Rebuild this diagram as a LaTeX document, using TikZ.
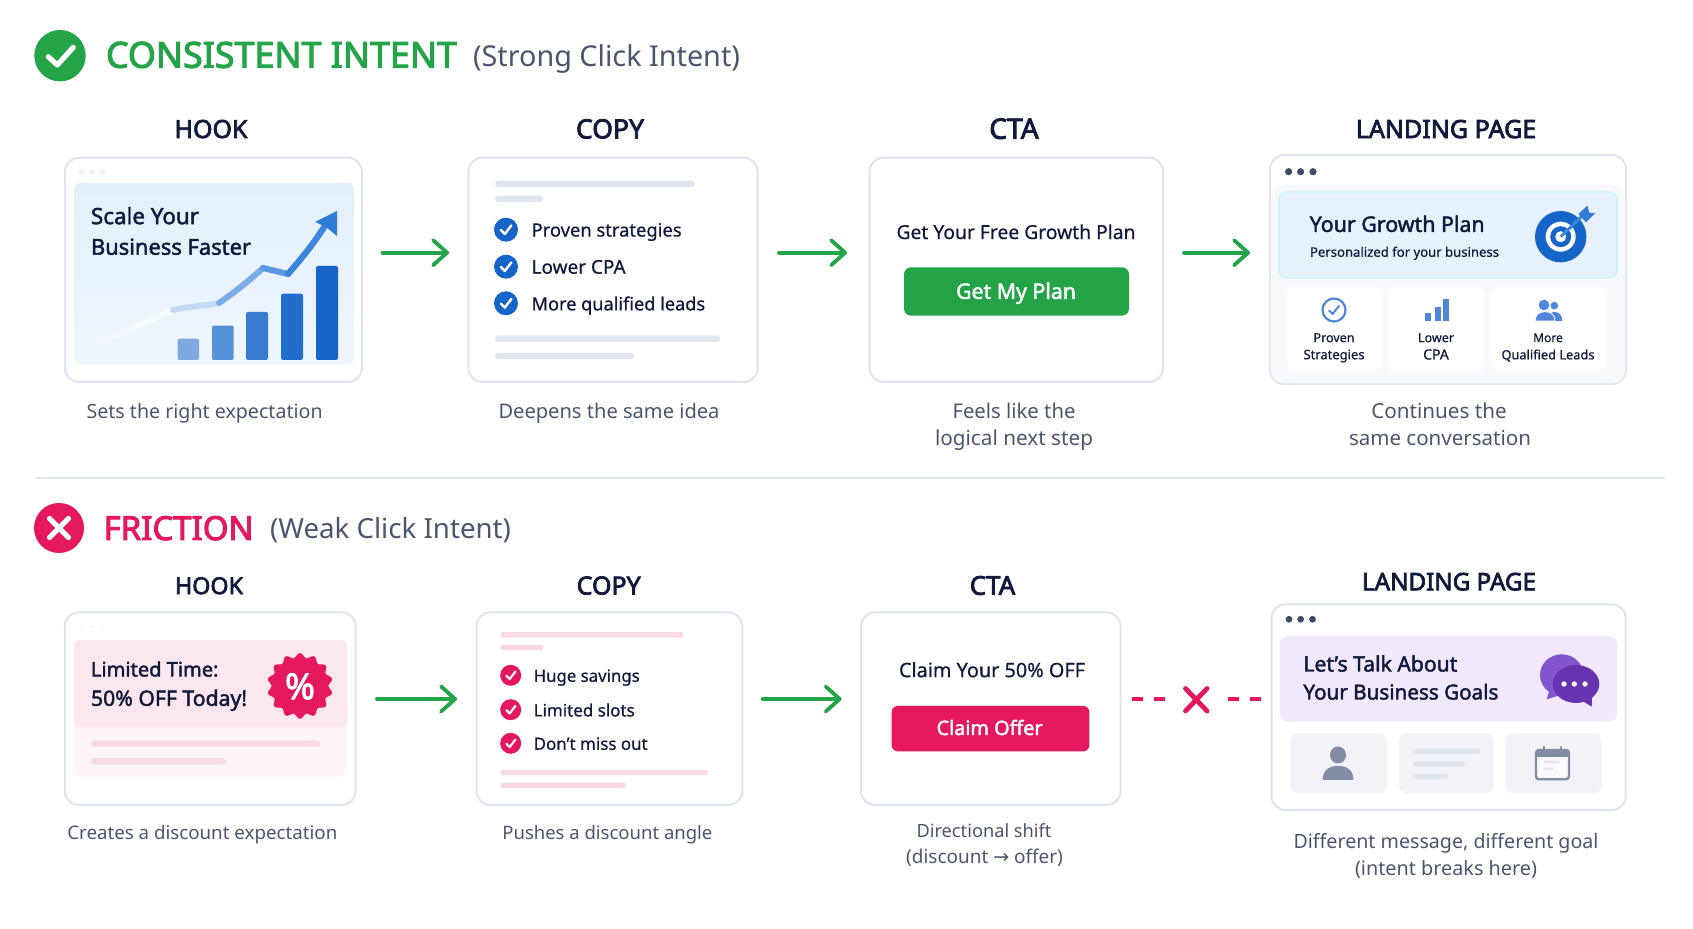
\documentclass[tikz,border=0pt]{standalone}
\usepackage{graphicx}
\usepackage{fontspec}
\usetikzlibrary{arrows.meta,fit}
\setmainfont{Noto Sans}
\newfontfamily\lightf{Noto Sans}[FakeBold=0.6]
\newfontfamily\medf{Noto Sans}[FakeBold=2]
\newfontfamily\semif{Noto Sans}[FakeBold=3]
\newfontfamily\djv{DejaVu Sans}
\definecolor{ink}{HTML}{111A3C}
\definecolor{capt}{HTML}{4B566E}
\definecolor{okg}{HTML}{22A447}
\definecolor{bad}{HTML}{E5185F}
\definecolor{blu}{HTML}{1565C8}
\definecolor{edge}{HTML}{DDE3EF}
\definecolor{graybar}{HTML}{E1E5EE}
\definecolor{pinkbar}{HTML}{F9D9E4}
\definecolor{card}{HTML}{F1F3F8}
\definecolor{iconb}{HTML}{4F86DA}
\definecolor{iconk}{HTML}{828CA2}
\definecolor{paneltop}{HTML}{E3EFFB}
\definecolor{panelbot}{HTML}{EFF6FD}
\tikzset{
  lab/.style={inner sep=0pt,outer sep=0pt},
  head/.style={font=\semif,text=ink},
  capn/.style={font=\normalfont,text=capt},
  body/.style={font=\medf,text=ink},
  small/.style={font=\lightf,text=ink},
  panelbox/.style={draw=edge,line width=1pt,fill=white,rounded corners=7pt,inner sep=0pt,outer sep=0pt},
  flow/.style={draw=okg,line width=1.9pt,line cap=round,-{Straight Barb[length=7pt,width=12.5pt,round]}},
  brk/.style={draw=bad,line width=1.8pt,dash pattern=on 5.4pt off 5.6pt},
  micro/.style={fill=white,rounded corners=4pt},
  gcard/.style={fill=card,rounded corners=4pt}
}
\newcommand\lbl[7]{\node[lab,anchor=#2,#6] (#1) at (#3,{#4+2.3}) {\resizebox{\dimexpr#5pt/2\relax}{!}{\vphantom{Ajg}#7}};}
\newcommand\pill[5]{\fill[#5,rounded corners=#4*0.24pt] (#1,{#3-#4/2}) rectangle (#2,{#3+#4/2});}
\newcommand\chk[4]{\fill[#4] (#1,#2) circle (#3);
  \draw[white,line width=#3*0.1pt,line cap=round,line join=round] ({#1-.42*#3},{#2+.03*#3}) -- ({#1-.1*#3},{#2+.36*#3}) -- ({#1+.45*#3},{#2-.36*#3});}
\newcommand\vbar[4]{\fill[#4,rounded corners=1pt] (#1,360) rectangle (#2,#3);}
\begin{document}
\begin{tikzpicture}[x=0.5pt,y=-0.5pt]
\useasboundingbox (0,0) rectangle (1693,929);
\fill[white] (0,0) rectangle (1693,929);

% ---------- header 1
\fill[okg] (60,55.7) circle (25.7);
\draw[white,line width=2.6pt,line cap=round,line join=round] (48.3,56.7) -- (57.3,65) -- (73.3,47.3);
\lbl{h1}{west}{106}{56.5}{351}{font=\semif,text=okg}{CONSISTENT INTENT}
\lbl{h1b}{west}{473}{57}{267}{capn}{(Strong Click Intent)}

% ---------- row 1 titles
\lbl{t1}{center}{211}{129.5}{73}{head}{HOOK}
\lbl{t2}{center}{610}{129.5}{68}{head}{COPY}
\lbl{t3}{center}{1014}{129.5}{49.5}{head}{CTA}
\lbl{t4}{center}{1446}{129.5}{180.5}{head}{LANDING PAGE}

% ---------- row 1 boxes
\node[panelbox,fit={(65,157.7)(362,382)}] (hook1) {};
\node[panelbox,fit={(468.4,157.7)(757.6,382)}] (copy1) {};
\node[panelbox,fit={(869.5,157.7)(1163,382)}] (cta1) {};
\node[panelbox,fit={(1270,155)(1626,384)}] (lp1) {};

% hook 1 content
\foreach \x in {82,92,102} \fill[card] (\x,171.7) circle (3);
\shade[rounded corners=3pt,top color=paneltop,bottom color=panelbot] (74.5,183) rectangle (354,365);
\lbl{s1}{west}{91}{216}{108}{body}{Scale Your}
\lbl{s2}{west}{91}{247}{160}{body}{Business Faster}
\draw[line width=3pt,line cap=round,color={rgb,255:red,243;green,248;blue,254}] (100,342) .. controls (115,336) and (125,332) .. (135,327);
\draw[line width=3pt,line cap=round,color={rgb,255:red,248;green,251;blue,255}] (135,327) .. controls (150,322) and (160,315) .. (173,310);
\draw[line width=3pt,line cap=round,color={rgb,255:red,195;green,218;blue,245}] (173,310) .. controls (190,306) and (205,306) .. (219,303);
\draw[line width=3pt,line cap=round,color={rgb,255:red,125;green,172;blue,234}] (219,303) .. controls (235,292) and (250,280) .. (263,268);
\draw[line width=3pt,line join=round,line cap=round,color={rgb,255:red,90;green,152;blue,228}] (263,268) -- (288,274);
\draw[line width=3.1pt,line cap=round,color={rgb,255:red,60;green,133;blue,220}] (288,274) .. controls (302,258) and (315,242) .. (326,224);
\fill[color={rgb,255:red,47;green,123;blue,214}] (337,211) -- (315,222) -- (326,227) -- (337,236) -- cycle;
\vbar{177.5}{199}{338.7}{blu!55!white}
\vbar{212}{233.7}{325.7}{blu!72!white}
\vbar{246}{268}{312}{blu!85!white}
\vbar{281}{303}{293.7}{blu!95!white}
\vbar{316}{338}{266}{blu}

% copy 1 content
\pill{495}{695}{184}{6.5}{graybar}
\pill{495}{543}{199}{6.5}{graybar}
\chk{506}{229.7}{12}{blu}
\chk{506}{266.7}{12}{blu}
\chk{506}{303.3}{12}{blu}
\lbl{c1}{west}{531.6}{229.7}{150}{small}{Proven strategies}
\lbl{c2}{west}{531.6}{266.7}{94}{small}{Lower CPA}
\lbl{c3}{west}{531.6}{303.3}{173.5}{small}{More qualified leads}
\pill{495}{720}{338.7}{6.5}{graybar}
\pill{495}{634}{356}{6.5}{graybar}

% cta 1 content
\lbl{g1}{center}{1016}{231.7}{239}{small}{Get Your Free Growth Plan}
\node[fill=okg,rounded corners=3.5pt,inner sep=0pt,fit={(904,267.3)(1129,315.7)}] (btn1) {};
\lbl{g2}{center}{1016}{291}{120}{font=\medf,text=white}{Get My Plan}

% landing 1 content
\fill[color={rgb,255:red,247;green,249;blue,253},rounded corners=6.5pt] (1270.6,185) rectangle (1625.4,383.4);
\foreach \x in {1288.6,1300.6,1313} \fill[color={rgb,255:red,63;green,74;blue,102}] (\x,171.7) circle (3.6);
\fill[draw=blu!25!cyan!25!white,line width=.7pt,fill={rgb,255:red,230;green,241;blue,252},rounded corners=4pt] (1279,192) rectangle (1617,278);
\lbl{l1}{west}{1309.7}{224}{175}{body}{Your Growth Plan}
\lbl{l2}{west}{1310}{251}{189}{small}{Personalized for your business}
\fill[blu] (1560.7,236.7) circle (25.7);
\fill[white] (1560.7,236.7) circle (15);
\fill[blu] (1560.7,236.7) circle (10.5);
\fill[white] (1560.7,236.7) circle (5.5);
\draw[line width=1.5pt,color={rgb,255:red,61;green,133;blue,220}] (1560.7,236.7) -- (1581,217);
\fill[color={rgb,255:red,50;green,125;blue,215}] (1578.3,214) -- (1587.3,205.7) -- (1589.3,212.7) -- (1595,213.3) -- (1586,222.3) -- cycle;
\fill[micro] (1287,286.7) rectangle (1382,371.7);
\fill[micro] (1388,286.7) rectangle (1484.5,371.7);
\fill[micro] (1491,286.7) rectangle (1606,371.7);
\draw[iconb,line width=1.1pt] (1334,310) circle (11.5);
\draw[iconb,line width=1pt,line cap=round,line join=round] (1329,310.5) -- (1332.6,314) -- (1339,306);
\fill[iconb] (1424.7,313) rectangle (1431,321);
\fill[iconb] (1435,306.7) rectangle (1441.3,321);
\fill[iconb] (1442.5,299) rectangle (1448.8,321);
\fill[iconb] (1544,305) circle (5.3);
\fill[iconb] (1554.3,305.7) circle (3.8);
\fill[iconb] (1555,321) -- (1562.3,321) .. controls (1562.3,315) and (1559,312) .. (1554.5,312) .. controls (1552,312) and (1550,313) .. (1549,314) -- cycle;
\fill[iconb,draw=white,line width=.4pt] (1535,321) .. controls (1535,315) and (1539,311.7) .. (1545,311.7) .. controls (1551,311.7) and (1555,315) .. (1555,321) -- cycle;
\lbl{m1}{center}{1334}{336.7}{41}{small}{Proven}
\lbl{m2}{center}{1334}{353.7}{61}{small}{Strategies}
\lbl{m3}{center}{1436}{336.7}{36}{small}{Lower}
\lbl{m4}{center}{1436}{353.7}{25.6}{small}{CPA}
\lbl{m5}{center}{1548}{336.7}{29.6}{small}{More}
\lbl{m6}{center}{1548}{353.7}{93}{small}{Qualified Leads}

% row 1 captions
\lbl{k1}{center}{204.6}{411}{236}{capn}{Sets the right expectation}
\lbl{k2}{center}{609}{411}{221}{capn}{Deepens the same idea}
\lbl{k3}{center}{1014}{410.7}{123}{capn}{Feels like the}
\lbl{k4}{center}{1014}{438}{158}{capn}{logical next step}
\lbl{k5}{center}{1439}{410.7}{135.5}{capn}{Continues the}
\lbl{k6}{center}{1440}{438}{182}{capn}{same conversation}

% row 1 connectors
\coordinate (a1s) at (382.6,252.7); \coordinate (a1e) at (449,252.7);
\coordinate (a2s) at (779,252.7); \coordinate (a2e) at (847,252.7);
\coordinate (a3s) at (1184,252.7); \coordinate (a3e) at (1250,252.7);
\draw[flow] (a1s) -- (a1e);
\draw[flow] (a2s) -- (a2e);
\draw[flow] (a3s) -- (a3e);

% divider
\coordinate (dl) at (34.5,478); \coordinate (dr) at (1665,478);
\draw[color={rgb,255:red,227;green,230;blue,238},line width=.8pt] (dl) -- (dr);

% ---------- header 2
\fill[bad] (59,528) circle (25);
\draw[white,line width=2.6pt,line cap=round] (49.5,518.5) -- (68.5,537.5) (68.5,518.5) -- (49.5,537.5);
\lbl{h2}{west}{103.6}{529.5}{150}{font=\semif,text=bad}{FRICTION}
\lbl{h2b}{west}{270}{529}{241}{capn}{(Weak Click Intent)}

% row 2 titles
\lbl{u1}{center}{209}{586}{68}{head}{HOOK}
\lbl{u2}{center}{608.7}{586}{64}{head}{COPY}
\lbl{u3}{center}{992.5}{586}{45.5}{head}{CTA}
\lbl{u4}{center}{1449}{582}{174}{head}{LANDING PAGE}

% row 2 boxes
\node[panelbox,fit={(64.8,612.3)(355.6,805)}] (hook2) {};
\node[panelbox,fit={(476.5,612.3)(742.3,805)}] (copy2) {};
\node[panelbox,fit={(861,612.3)(1120.6,805)}] (cta2) {};
\node[panelbox,fit={(1271.5,604.3)(1625.7,810)}] (lp2) {};

% hook 2 content
\foreach \x in {82,92,102} \fill[card!50!white] (\x,627) circle (2.5);
\fill[color={rgb,255:red,254;green,245;blue,248},rounded corners=4pt] (74,700) rectangle (347,777);
\fill[color={rgb,255:red,252;green,231;blue,238},rounded corners=3pt] (74,640) rectangle (347,727.7);
\lbl{p1}{west}{91}{669}{127.5}{body}{Limited Time:}
\lbl{p2}{west}{91}{698}{156}{body}{50\% OFF Today!}
\fill[bad] plot[domain=0:360,samples=141,smooth] ({300+(30.6-2.2*cos(14*\x))*cos(\x)},{686+(30.6-2.2*cos(14*\x))*sin(\x)}) -- cycle;
\lbl{p3}{center}{300}{688}{30}{font=\medf,text=white}{\%}
\pill{91}{320}{743.7}{6.5}{pinkbar}
\pill{91}{226}{761.3}{6.5}{pinkbar}

% copy 2 content
\pill{500.5}{683.7}{635}{5.5}{pinkbar}
\pill{500.5}{543.4}{647.7}{5.5}{pinkbar}
\chk{510.7}{675.3}{10.5}{bad}
\chk{510.7}{709.7}{10.5}{bad}
\chk{510.7}{743.3}{10.5}{bad}
\lbl{q1}{west}{533.7}{675.3}{106}{small}{Huge savings}
\lbl{q2}{west}{533.7}{709.7}{101}{small}{Limited slots}
\lbl{q3}{west}{533.7}{743.3}{114}{small}{Don’t miss out}
\pill{500.5}{708}{772.7}{5.5}{pinkbar}
\pill{500.5}{626}{785.3}{5.5}{pinkbar}

% cta 2 content
\lbl{r1}{center}{992}{669.7}{186}{small}{Claim Your 50\% OFF}
\node[fill=bad,rounded corners=3pt,inner sep=0pt,fit={(891.7,706)(1089.3,751.3)}] (btn2) {};
\lbl{r2}{center}{989.6}{727.5}{106}{font=\medf,text=white}{Claim Offer}

% landing 2 content
\foreach \x in {1289,1300.6,1312.5} \fill[color={rgb,255:red,63;green,74;blue,102}] (\x,619.3) circle (3.4);
\fill[color={rgb,255:red,241;green,233;blue,251},rounded corners=4pt] (1279.5,636) rectangle (1617,721.7);
\lbl{v1}{west}{1303.4}{663.7}{154}{body}{Let’s Talk About}
\lbl{v2}{west}{1303.4}{691.8}{195}{body}{Your Business Goals}
\fill[color={rgb,255:red,131;green,85;blue,204}] (1561.7,675) ellipse [x radius=21.7,y radius=20.7];
\fill[color={rgb,255:red,131;green,85;blue,204}] (1550,688) -- (1546.7,699.3) -- (1564,694) -- cycle;
\fill[color={rgb,255:red,102;green,52;blue,174}] (1576,684) ellipse [x radius=23.3,y radius=19];
\fill[color={rgb,255:red,102;green,52;blue,174}] (1581,700) -- (1591.7,706.7) -- (1592,695) -- cycle;
\foreach \x in {1564,1574.3,1585} \fill[white] (\x,684) circle (2.7);
\fill[gcard] (1290.3,733.3) rectangle (1387,793.3);
\fill[gcard] (1399,733.3) rectangle (1493.6,793.3);
\fill[gcard] (1505,733.3) rectangle (1601.8,793.3);
\fill[iconk] (1338,755) ellipse [x radius=8,y radius=8.5];
\fill[iconk] (1322.6,780) .. controls (1322.6,770) and (1329,766) .. (1338,766) .. controls (1347,766) and (1353.4,770) .. (1353.4,780) -- cycle;
\pill{1412.7}{1480.5}{751.3}{5.5}{graybar}
\pill{1412.7}{1465}{764}{5.5}{graybar}
\pill{1412.7}{1448}{776.7}{5.5}{graybar}
\fill[white!60!card] (1536,750) rectangle (1569,779.3);
\fill[iconk] (1536,750) rectangle (1569,756.7);
\draw[iconk,line width=1.2pt,rounded corners=1.5pt] (1536,750) rectangle (1569,779.3);
\draw[iconk,line width=1.2pt,line cap=round] (1544,747) -- (1544,752) (1561,747) -- (1561,752);
\pill{1543}{1560}{762}{2.5}{graybar}
\pill{1543}{1553}{769}{2.5}{graybar}

% row 2 captions
\lbl{w1}{center}{202.3}{832.7}{270}{capn}{Creates a discount expectation}
\lbl{w2}{center}{607.4}{832.7}{210}{capn}{Pushes a discount angle}
\lbl{w3}{center}{984}{830.5}{135}{capn}{Directional shift}
\lbl{w4}{center}{984.5}{856.2}{156.6}{capn}{(discount {\djv →} offer)}
\lbl{w5}{center}{1446}{841}{305}{capn}{Different message, different goal}
\lbl{w6}{center}{1446}{867.7}{182}{capn}{(intent breaks here)}

% row 2 connectors
\coordinate (b1s) at (377,699); \coordinate (b1e) at (457,699);
\coordinate (b2s) at (762.7,699); \coordinate (b2e) at (841.6,699);
\draw[flow] (b1s) -- (b1e);
\draw[flow] (b2s) -- (b2e);
\coordinate (x1s) at (1132,699); \coordinate (x1e) at (1165,699);
\coordinate (x2s) at (1228,699); \coordinate (x2e) at (1262,699);
\draw[brk] (x1s) -- (x1e);
\draw[brk] (x2s) -- (x2e);
\draw[bad,line width=2.4pt,line cap=round] (1185.5,688.5) -- (1207,711) (1207,688.5) -- (1185.5,711);
\end{tikzpicture}
\end{document}
